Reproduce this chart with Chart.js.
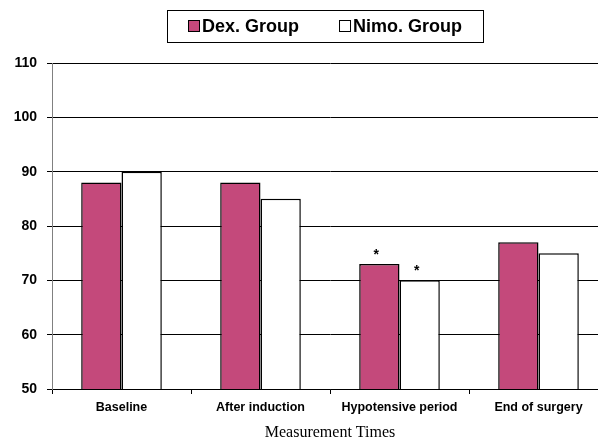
<!DOCTYPE html>
<html>
<head>
<meta charset="utf-8">
<script src="https://cdn.jsdelivr.net/npm/chart.js@4/dist/chart.umd.min.js"></script>
<style>
html, body { margin: 0; padding: 0; background: #fff; overflow: hidden; }
#wrap { width: 608px; height: 443px; }
</style>
</head>
<body>
<div id="wrap"><canvas id="myChart"></canvas></div>
<script>
var categories = ['Baseline', 'After induction', 'Hypotensive period', 'End of surgery'];
var dexValues = [88, 88, 73, 77];
var nimoValues = [90, 85, 70, 75];
var dexStars = [false, false, true, false];
var nimoStars = [false, false, true, false];
var seriesNames = ['Dex. Group', 'Nimo. Group'];
var yMin = 50, yMax = 110, yStep = 10;

var DEX_COLOR = '#C4497B';

// boxed legend like the original (swatch sits right against the text)
var boxLegend = {
  id: 'boxLegend',
  afterDraw: function(chart) {
    var ctx = chart.ctx;
    var sets = chart.data.datasets;
    ctx.save();
    ctx.font = 'bold 18px "Liberation Sans", Arial, sans-serif';
    var pad = 21, sw = 12, gap = 2, itemGap = 40;
    var total = pad * 2;
    sets.forEach(function(ds, i) {
      total += sw + gap + ctx.measureText(ds.label).width;
      if (i < sets.length - 1) total += itemGap;
    });
    var left = Math.round(325 - total / 2);
    var top = 10, h = 32, cy = top + h / 2;
    ctx.strokeStyle = '#000';
    ctx.lineWidth = 1;
    ctx.strokeRect(left + 0.5, top + 0.5, Math.round(total), h);
    var x = left + pad;
    sets.forEach(function(ds) {
      ctx.fillStyle = ds.backgroundColor;
      ctx.fillRect(x, cy - sw / 2, sw, sw);
      ctx.strokeRect(x + 0.5, cy - sw / 2 + 0.5, sw - 1, sw - 1);
      x += sw + gap;
      ctx.fillStyle = '#000';
      ctx.textBaseline = 'middle';
      ctx.textAlign = 'left';
      ctx.fillText(ds.label, x, cy + 1);
      x += ctx.measureText(ds.label).width + itemGap;
    });
    ctx.restore();
  }
};

// significance stars above bars
var starMarks = {
  id: 'starMarks',
  afterDatasetsDraw: function(chart) {
    var ctx = chart.ctx;
    var flags = [dexStars, nimoStars];
    ctx.save();
    ctx.font = 'bold 14px "Liberation Sans", Arial, sans-serif';
    ctx.fillStyle = '#000';
    ctx.textAlign = 'center';
    ctx.textBaseline = 'middle';
    flags.forEach(function(f, di) {
      var meta = chart.getDatasetMeta(di);
      f.forEach(function(on, i) {
        if (!on) return;
        var bar = meta.data[i];
        ctx.fillText('*', bar.x - 3, bar.y - 9);
      });
    });
    ctx.restore();
  }
};

var data = {
  labels: categories,
  datasets: [{
    label: seriesNames[0],
    data: dexValues,
    backgroundColor: DEX_COLOR,
    borderColor: '#000',
    borderWidth: 1.5,
    categoryPercentage: 0.58,
    barPercentage: 1
  }, {
    label: seriesNames[1],
    data: nimoValues,
    backgroundColor: '#ffffff',
    borderColor: '#000',
    borderWidth: 1.5,
    categoryPercentage: 0.58,
    barPercentage: 1
  }]
};

var config = {
  type: 'bar',
  data: data,
  plugins: [boxLegend, starMarks],
  options: {
    responsive: true,
    maintainAspectRatio: false,
    animation: false,
    devicePixelRatio: 1,
    layout: { padding: { top: 63, left: 0, right: 0, bottom: 0 } },
    plugins: {
      legend: { display: false },
      tooltip: { enabled: false }
    },
    scales: {
      x: {
        afterFit: function(s) { s.height = 54; },
        grid: { drawOnChartArea: false, drawTicks: true, tickLength: 5, color: '#000' },
        border: { color: '#000' },
        ticks: {
          color: '#000',
          padding: 6,
          font: { family: '"Liberation Sans", Arial, sans-serif', size: 12.5, weight: 'bold' }
        },
        title: {
          display: true,
          text: 'Measurement Times',
          color: '#000',
          padding: { top: 0, bottom: 1 },
          font: { family: '"Liberation Serif", "Times New Roman", serif', size: 16, weight: 'normal' }
        }
      },
      y: {
        min: yMin,
        max: yMax,
        afterFit: function(s) { s.width = 52; },
        grid: { color: '#000', tickLength: 5 },
        border: { color: '#808080' },
        ticks: {
          stepSize: yStep,
          color: '#000',
          padding: 10,
          font: { family: '"Liberation Sans", Arial, sans-serif', size: 14, weight: 'bold' }
        }
      }
    }
  }
};

var myChart = new Chart(document.getElementById('myChart'), config);
</script>
</body>
</html>
